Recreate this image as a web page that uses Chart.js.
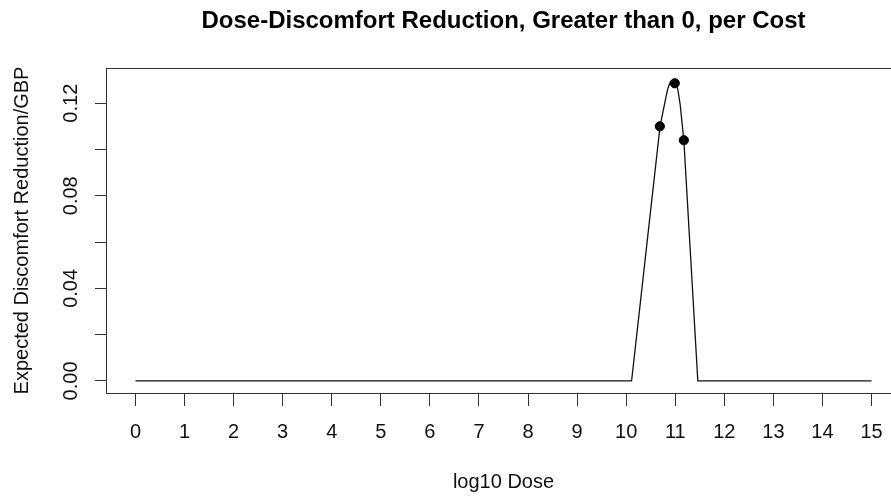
<!DOCTYPE html>
<html>
<head>
<meta charset="utf-8">
<script src="https://cdn.jsdelivr.net/npm/chart.js@4/dist/chart.umd.min.js"></script>
<style>
  html, body { margin: 0; padding: 0; background: #fff; overflow: hidden; }
  #wrap { width: 911px; height: 497px; }
</style>
</head>
<body>
<div id="wrap"><canvas id="chart" width="911" height="497"></canvas></div>
<script>
// Expected discomfort reduction per GBP across log10 dose
const doseCurve = [0, 1, 2, 3, 4, 5, 6, 7, 8, 9, 10, 10.11, 10.3, 10.5, 10.69, 10.8, 10.85, 10.9, 10.95, 11.0, 11.05, 11.1, 11.175, 11.3, 11.46, 12, 13, 14, 15];
const reductionCurve = [0, 0, 0, 0, 0, 0, 0, 0, 0, 0, 0, 0, 0.036, 0.074, 0.110, 0.1215, 0.1265, 0.1292, 0.1300, 0.1290, 0.1262, 0.1195, 0.104, 0.0584, 0, 0, 0, 0, 0];

// Observed doses and their values
const dosePoints = [10.686, 10.99, 11.175];
const reductionPoints = [0.110, 0.1286, 0.104];

// Axis ticks
const xTicks = [0, 1, 2, 3, 4, 5, 6, 7, 8, 9, 10, 11, 12, 13, 14, 15];
const yTicks = [0, 0.02, 0.04, 0.06, 0.08, 0.10, 0.12];
const yTickLabels = ['0.00', '0.04', '0.08', '0.12'];
const yLabelValues = [0, 0.04, 0.08, 0.12];

const FONT = '"Liberation Sans", Arial, Helvetica, sans-serif';

const frameAndYLabels = {
  id: 'frameAndYLabels',
  afterDraw(chart) {
    const {ctx, chartArea: a, scales} = chart;
    ctx.save();
    ctx.strokeStyle = '#333';
    ctx.lineWidth = 1;
    ctx.strokeRect(Math.round(a.left) + 0.5, Math.round(a.top) + 0.5,
                   Math.round(a.right - a.left), Math.round(a.bottom - a.top));
    // y tick labels, parallel to the axis
    ctx.fillStyle = '#111';
    ctx.font = '20px ' + FONT;
    ctx.textAlign = 'center';
    ctx.textBaseline = 'middle';
    yLabelValues.forEach((v, i) => {
      const y = scales.y.getPixelForValue(v);
      ctx.save();
      ctx.translate(71, y);
      ctx.rotate(-Math.PI / 2);
      ctx.fillText(yTickLabels[i], 0, 0);
      ctx.restore();
    });
    ctx.restore();
  }
};

new Chart(document.getElementById('chart'), {
  type: 'scatter',
  data: {
    datasets: [
      {
        type: 'line',
        data: doseCurve.map((x, i) => ({x, y: reductionCurve[i]})),
        borderColor: '#111',
        borderWidth: 1.3,
        pointRadius: 0,
        tension: 0,
        fill: false
      },
      {
        data: dosePoints.map((x, i) => ({x, y: reductionPoints[i]})),
        backgroundColor: '#000',
        borderColor: '#000',
        pointRadius: 4.6,
        pointHoverRadius: 4.6
      }
    ]
  },
  options: {
    responsive: false,
    animation: false,
    events: [],
    layout: { padding: { left: 0, right: 10, top: 0, bottom: 0 } },
    plugins: {
      legend: { display: false },
      tooltip: { enabled: false },
      title: {
        display: true,
        fullSize: false,
        text: 'Dose-Discomfort Reduction, Greater than 0, per Cost',
        color: '#000',
        font: { family: FONT, size: 24, weight: 'bold' },
        padding: { top: 6.5, bottom: 32.7 }
      }
    },
    scales: {
      x: {
        type: 'linear',
        min: -0.6,
        max: 15.6,
        afterBuildTicks: s => { s.ticks = xTicks.map(v => ({value: v})); },
        afterFit: s => { s.height = 104; },
        border: { display: false },
        grid: { drawOnChartArea: false, drawTicks: true, tickLength: 13, color: '#333', tickColor: '#333' },
        ticks: {
          autoSkip: false, maxRotation: 0, minRotation: 0,
          color: '#111', padding: 14,
          font: { family: FONT, size: 20 },
          callback: v => String(v)
        },
        title: {
          display: true,
          text: 'log10 Dose',
          color: '#111',
          font: { family: FONT, size: 20 },
          padding: { top: 0, bottom: 3 }
        }
      },
      y: {
        type: 'linear',
        min: -0.0052,
        max: 0.1352,
        afterBuildTicks: s => { s.ticks = yTicks.map(v => ({value: v})); },
        afterFit: s => { s.width = 106; },
        border: { display: false },
        grid: { drawOnChartArea: false, drawTicks: true, tickLength: 11, color: '#333', tickColor: '#333' },
        ticks: { display: false },
        title: {
          display: true,
          text: 'Expected Discomfort Reduction/GBP',
          color: '#111',
          font: { family: FONT, size: 20 },
          padding: { top: 10, bottom: 0 }
        }
      }
    }
  },
  plugins: [frameAndYLabels]
});
</script>
</body>
</html>
